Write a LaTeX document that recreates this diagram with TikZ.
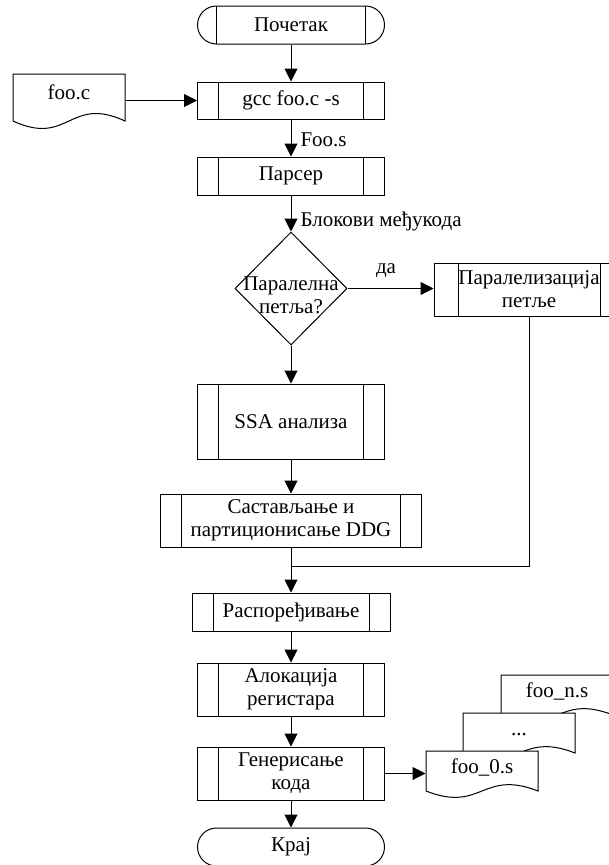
\documentclass[tikz,border=0pt]{standalone}
\usepackage{fontspec}
\setmainfont{Liberation Serif}
\usetikzlibrary{arrows.meta, shapes.geometric}

\tikzset{
  arr/.style={-{Triangle[length=13pt,width=13pt]}},
  bars/.style={path picture={
      \draw ([xshift=#1]path picture bounding box.north west) -- ([xshift=#1]path picture bounding box.south west);
      \draw ([xshift=-#1]path picture bounding box.north east) -- ([xshift=-#1]path picture bounding box.south east);}},
  bars/.default=21pt,
  proc/.style={draw, rectangle, minimum width=187pt, minimum height=38pt, inner sep=0pt, align=center, bars=#1},
  proc/.default=21pt,
  term/.style={draw, rectangle, rounded corners=19pt, minimum width=187pt, minimum height=38pt, inner sep=0pt},
  decision/.style={draw, diamond, minimum width=112pt, minimum height=113pt, inner sep=0pt},
  lbl/.style={anchor=base west, inner sep=0pt},
  docline/.style={draw, fill=white},
  doctext/.style={anchor=north, minimum width=112pt, inner sep=0pt, text height=14pt, text depth=4pt},
}

% document sheet: name, left, top, height, text
\newcommand{\docsheet}[5]{%
  \path[docline] (#2,#3+#4) -- (#2,#3) -- (#2+112,#3) -- (#2+112,#3+#4)
    .. controls (#2+56,#3+0.45*#4) and (#2+56,#3+1.55*#4) .. (#2,#3+#4) -- cycle;
  \node[doctext, minimum height=0.84*#4pt] (#1) at (#2+56,#3) {#5};}

\begin{document}
\begin{tikzpicture}[x=1pt, y=-1pt, line width=1pt, font=\fontsize{21}{23}\selectfont]
    \useasboundingbox (0,0) rectangle (609,865);

    % main flow
    \node[term, bars=19pt] (start) at (291,25) {Почетак};
    \node[proc, minimum height=37pt] (gcc) at (291,100.5) {gcc foo.c -s};
    \node[proc] (parser) at (291,176) {Парсер};
    \node[decision, label={[name=looptext, align=center, yshift=-7pt]center:Паралелна\\петља?}] (loop) at (291,288.5) {};
    \node[proc=24pt, minimum width=190pt, minimum height=53pt] (paral) at (529,289.5) {Паралелизација\\петље};
    \node[proc, minimum height=75pt] (ssa) at (291,421.5) {SSA анализа};
    \node[proc, minimum width=261pt, minimum height=53pt] (sast) at (291,520.5) {Састављање и\\партиционисање DDG};
    \node[proc, minimum width=198pt] (rasp) at (291,612) {Распоређивање};
    \node[proc, minimum height=53pt] (alok) at (291,689.5) {Алокација\\регистара};
    \node[proc, minimum height=53pt] (gen) at (291,773.5) {Генерисање\\кода};
    \node[term] (kraj) at (291,847) {Крај};

    % files
    \docsheet{fooc}{13}{74}{47}{foo.c}
    \docsheet{foon}{501}{675}{40}{foo\_n.s}
    \docsheet{foodots}{463}{713}{40}{...}
    \docsheet{foo0}{426}{751}{40}{foo\_0.s}

    \coordinate (join) at (291,566);

    \draw[arr] (start) -- (gcc);
    \draw[arr] (gcc.west -| fooc.east) -- (gcc.west);
    \draw[arr] (gcc) -- (parser);
    \draw[arr] (parser) -- (loop);
    \draw[arr] (loop.east) -- (loop.east -| paral.west);
    \draw[arr] (loop) -- (ssa);
    \draw[arr] (ssa) -- (sast);
    \draw (paral) |- (join);
    \draw[arr] (sast) -- (rasp);
    \draw[arr] (rasp) -- (alok);
    \draw[arr] (alok) -- (gen);
    \draw[arr] (gen) -- (kraj);
    \draw[arr] (gen.east) -- (gen.east -| foo0.west);

    \node[lbl] (foos) at (300,146) {Foo.s};
    \node[lbl] (blocks) at (300,226) {Блокови међукода};
    \node[anchor=base] (yes) at (386,273) {да};
\end{tikzpicture}
\end{document}
